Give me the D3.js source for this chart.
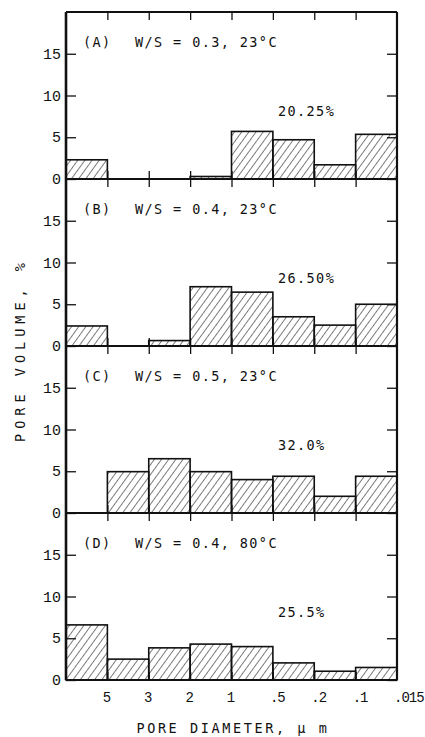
<!DOCTYPE html>
<html><head><meta charset="utf-8">
<script src="https://cdn.jsdelivr.net/npm/d3@7"></script>
<style>
html,body{margin:0;padding:0;background:#fff;}
svg{display:block;}
.tick-lab{font-family:"Liberation Mono","DejaVu Sans Mono",monospace;font-size:15px;fill:#111;}
.xlab{font-family:"Liberation Mono","DejaVu Sans Mono",monospace;font-size:14px;fill:#111;letter-spacing:-1px;}
.ann{font-family:"DejaVu Sans Mono","Liberation Mono",monospace;font-size:13.5px;fill:#111;letter-spacing:1.4px;}
</style></head>
<body>
<script>
// ---- data ----
const binLabels = ["5", "3", "2", "1", ".5", ".2", ".1", ".015"]; // right edge of each bin
const panelIds = ["(A)", "(B)", "(C)", "(D)"];
const panelConds = ["W/S = 0.3, 23°C", "W/S = 0.4, 23°C", "W/S = 0.5, 23°C", "W/S = 0.4, 80°C"];
const panelTotals = ["20.25%", "26.50%", "32.0%", "25.5%"];
const valuesA = [2.3, 0, 0, 0.3, 5.7, 4.7, 1.7, 5.35];
const valuesB = [2.4, 0, 0.65, 7.1, 6.45, 3.5, 2.5, 5.0];
const valuesC = [0, 4.95, 6.5, 4.95, 4.0, 4.4, 2.0, 4.4];
const valuesD = [6.6, 2.5, 3.85, 4.3, 4.0, 2.05, 1.05, 1.5];
const yTicks = [0, 5, 10, 15];
const yTitle = "PORE VOLUME, %";
const xTitle = "PORE DIAMETER, μ m";

const series = [valuesA, valuesB, valuesC, valuesD];

const W = 425, H = 737;
const left = 66, right = 397, top0 = 12, panelH = 167;

const svg = d3.select("body").append("svg").attr("width", W).attr("height", H);
const defs = svg.append("defs");
const pat = defs.append("pattern").attr("id", "hatch")
  .attr("patternUnits", "userSpaceOnUse").attr("width", 5.8).attr("height", 10)
  .attr("patternTransform", "rotate(36)");
pat.append("line").attr("x1", 0).attr("y1", 0).attr("x2", 0).attr("y2", 10)
  .attr("stroke", "#111").attr("stroke-width", 1.1);

const x = d3.scaleLinear().domain([0, binLabels.length]).range([left, right]);

series.forEach((vals, p) => {
  const y0 = top0 + p * panelH;
  const y = d3.scaleLinear().domain([0, 20]).range([y0 + panelH, y0]);
  const g = svg.append("g");

  // bars
  g.selectAll("rect.bar").data(vals.map((v, i) => ({v, i})).filter(d => d.v > 0))
    .join("rect").attr("class", "bar")
    .attr("x", d => x(d.i)).attr("width", d => x(d.i + 1) - x(d.i))
    .attr("y", d => y(d.v)).attr("height", d => y(0) - y(d.v))
    .attr("fill", "url(#hatch)").attr("stroke", "#111").attr("stroke-width", 1.6);

  // y axes (inward ticks) left and right
  const yl = d3.axisRight(y).tickValues(yTicks).tickSize(10).tickFormat("");
  g.append("g").attr("transform", `translate(${left},0)`).call(yl)
    .call(s => s.select(".domain").remove())
    .call(s => s.selectAll("line").attr("stroke", "#111").attr("stroke-width", 1.3));
  const yr = d3.axisLeft(y).tickValues(yTicks).tickSize(10).tickFormat("");
  g.append("g").attr("transform", `translate(${right},0)`).call(yr)
    .call(s => s.select(".domain").remove())
    .call(s => s.selectAll("line").attr("stroke", "#111").attr("stroke-width", 1.3));

  // tick labels
  g.selectAll("text.yl").data(yTicks).join("text").attr("class", "tick-lab")
    .attr("x", left - 5).attr("y", d => y(d) + 5).attr("text-anchor", "end").text(d => d);

  // top / bottom ticks (inward) at bin boundaries
  const bounds = d3.range(1, binLabels.length);
  const xt = d3.axisBottom(x).tickValues(bounds).tickSize(8).tickFormat("");
  g.append("g").attr("transform", `translate(0,${y0})`).call(xt)
    .call(s => s.select(".domain").remove())
    .call(s => s.selectAll("line").attr("stroke", "#111").attr("stroke-width", 1.3));
  const xb = d3.axisTop(x).tickValues(bounds).tickSize(8).tickFormat("");
  g.append("g").attr("transform", `translate(0,${y(0)})`).call(xb)
    .call(s => s.select(".domain").remove())
    .call(s => s.selectAll("line").attr("stroke", "#111").attr("stroke-width", 1.3));

  // frame
  g.append("line").attr("x1", left).attr("x2", right).attr("y1", y0).attr("y2", y0)
    .attr("stroke", "#111").attr("stroke-width", 2.2);
  g.append("line").attr("x1", left).attr("x2", right).attr("y1", y(0)).attr("y2", y(0))
    .attr("stroke", "#111").attr("stroke-width", 2.2);
  g.append("line").attr("x1", left).attr("x2", left).attr("y1", y0).attr("y2", y(0))
    .attr("stroke", "#111").attr("stroke-width", 2.6);
  g.append("line").attr("x1", right).attr("x2", right).attr("y1", y0).attr("y2", y(0))
    .attr("stroke", "#111").attr("stroke-width", 2.2);

  // annotations
  g.append("text").attr("class", "ann").attr("x", 83).attr("y", y0 + 35).text(panelIds[p]);
  g.append("text").attr("class", "ann").attr("x", 135).attr("y", y0 + 35).text(panelConds[p]);
  g.append("text").attr("class", "ann").attr("x", 278).attr("y", y0 + 104).text(panelTotals[p]);
});

// x tick labels at bin boundaries (bottom)
const baseY = top0 + 4 * panelH;
svg.selectAll("text.xl").data(binLabels).join("text").attr("class", "xlab")
  .attr("x", (d, i) => d.startsWith(".") ? x(i + 1) - 3 : x(i + 1) - 1)
  .attr("text-anchor", d => d.startsWith(".") ? "start" : "middle")
  .attr("y", baseY + 22).text(d => d);

// axis titles
svg.append("text").attr("class", "ann").style("letter-spacing", "2.6px")
  .attr("x", 233).attr("y", 733).attr("text-anchor", "middle").text(xTitle);
svg.append("text").attr("class", "ann").style("letter-spacing", "5px")
  .attr("transform", "translate(25,350) rotate(-90)").attr("text-anchor", "middle").text(yTitle);
</script>
</body></html>
